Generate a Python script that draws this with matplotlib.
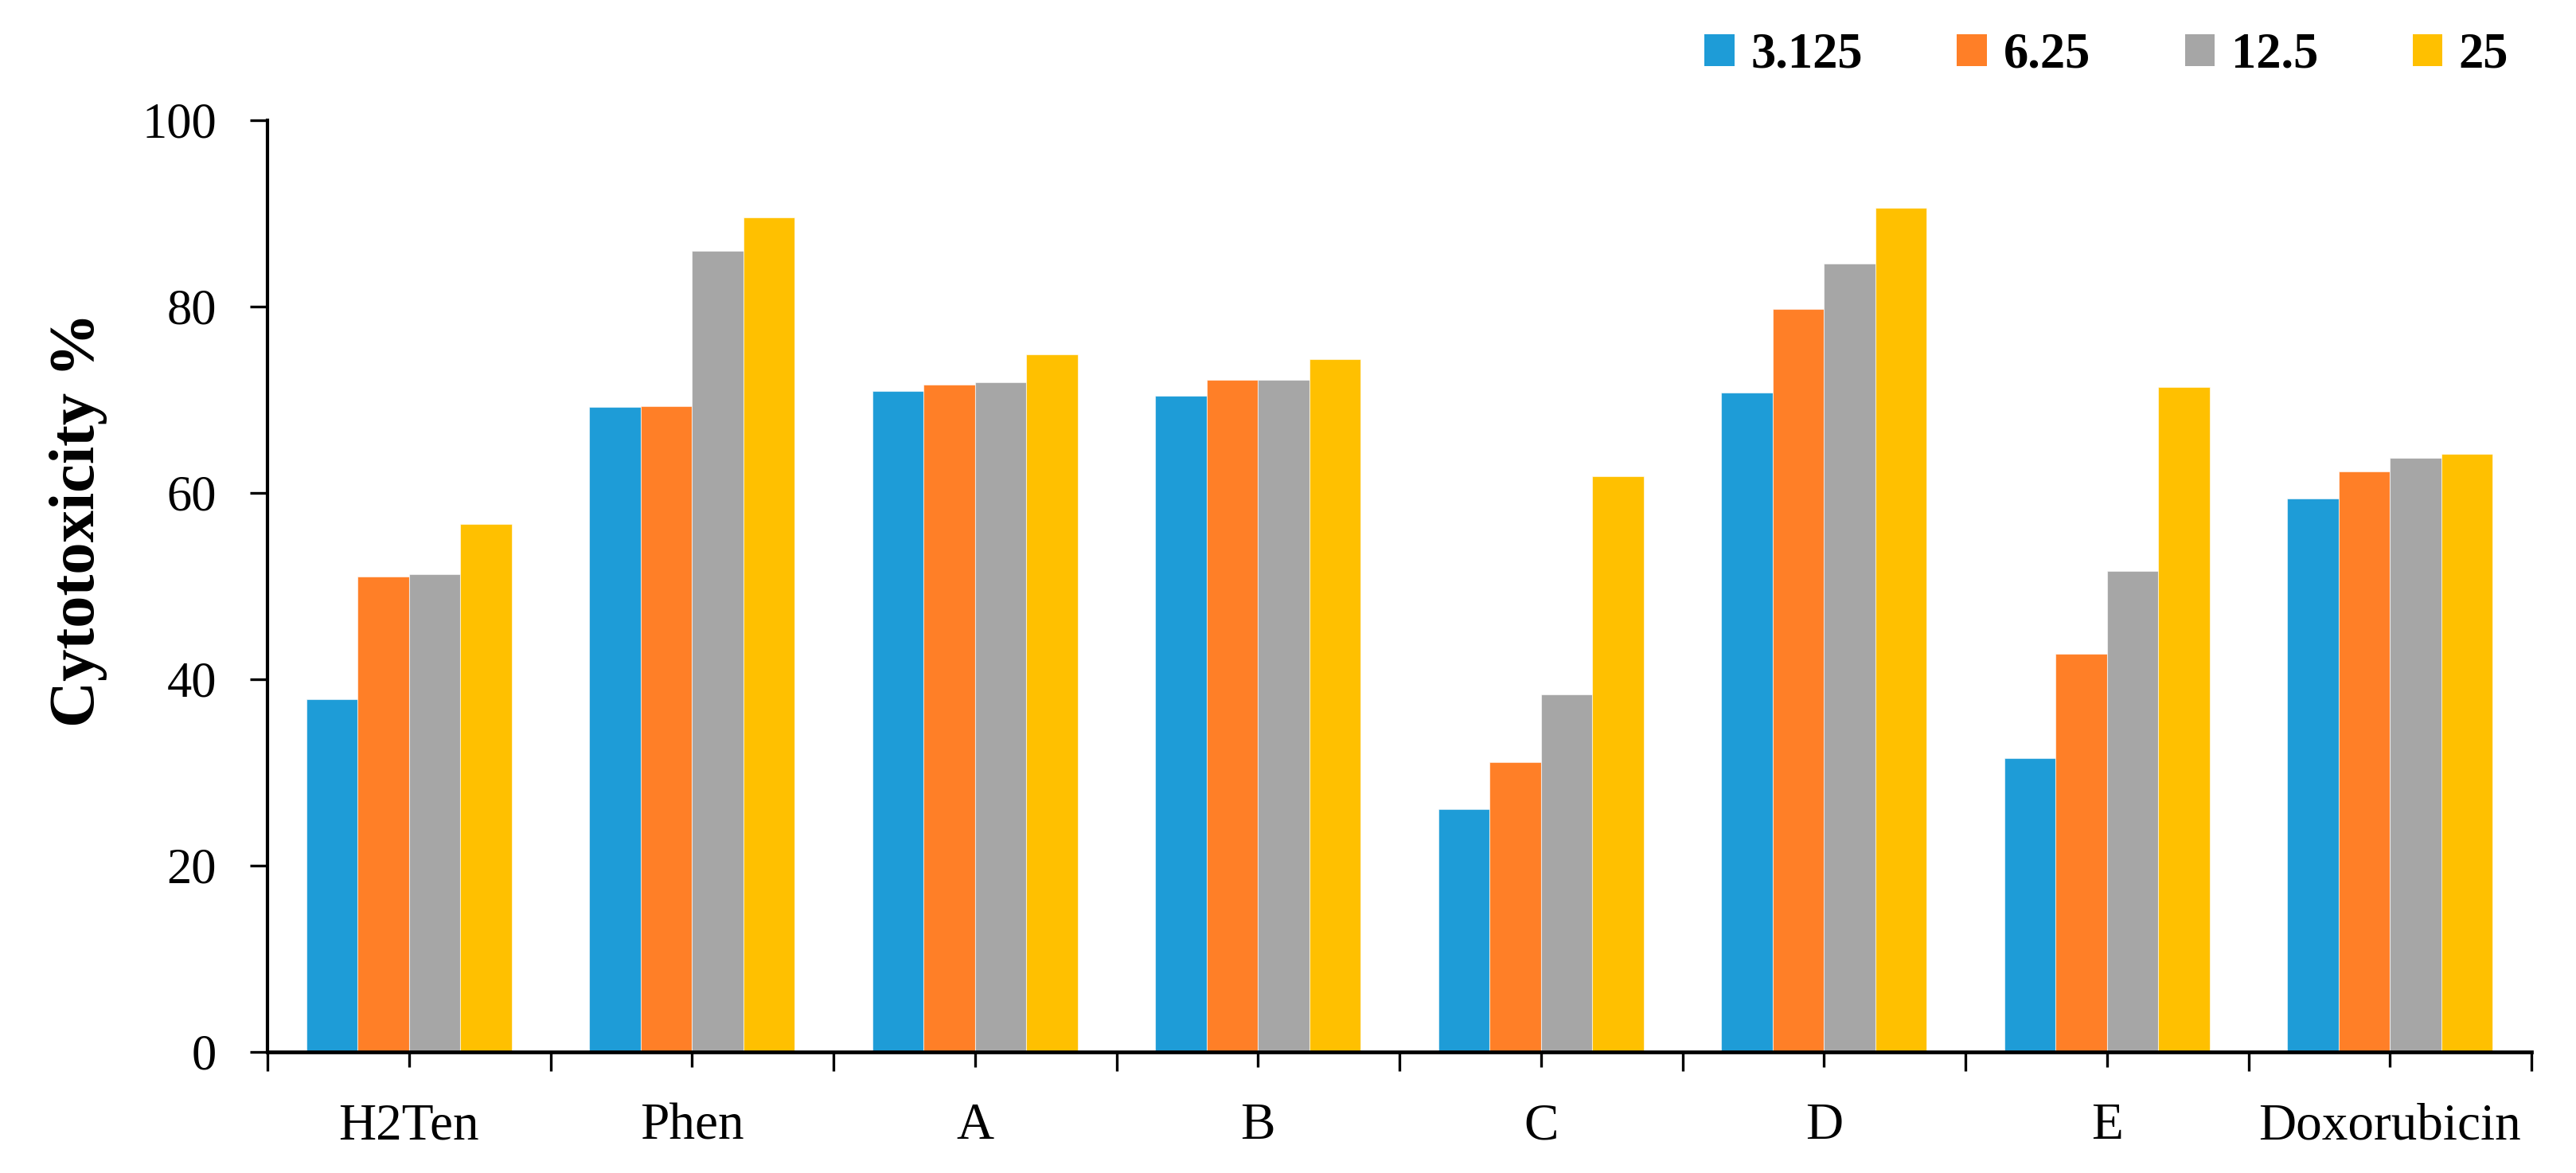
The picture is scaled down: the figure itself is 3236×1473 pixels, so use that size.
import matplotlib
matplotlib.use("Agg")
import matplotlib.pyplot as plt
import numpy as np
from matplotlib.patches import Patch

categories = ["H2Ten", "Phen", "A", "B", "C", "D", "E", "Doxorubicin"]
series_labels = ["3.125", "6.25", "12.5", "25"]
v_3125 = [37.9, 69.2, 70.9, 70.4, 26.1, 70.8, 31.5, 59.4]
v_625 = [51.0, 69.3, 71.6, 72.1, 31.1, 79.7, 42.7, 62.3]
v_125 = [51.3, 86.0, 71.9, 72.1, 38.4, 84.6, 51.6, 63.8]
v_25 = [56.7, 89.6, 74.85, 74.4, 61.8, 90.6, 71.4, 64.2]
y_ticks = [0, 20, 40, 60, 80, 100]

colors = ["#1E9CD7", "#FF7F27", "#A6A6A6", "#FFC000"]

plt.rcParams['font.family'] = ['Liberation Serif', 'DejaVu Serif']

fig = plt.figure(figsize=(32.37, 14.73), dpi=100)
ax = fig.add_axes([0.1038, 0.1032, 0.8786, 0.7943])

x = np.arange(len(categories))
w = 0.1814
series = [v_3125, v_625, v_125, v_25]
for i, (vals, c) in enumerate(zip(series, colors)):
    ax.bar(x + (i - 1.5) * w, vals, width=w, color=c,
           edgecolor=(1, 1, 1, 0.6), linewidth=0.8)

ax.set_xlim(-0.5, len(categories) - 0.5)
ax.set_ylim(0, 100)
ax.set_yticks(y_ticks)
ax.set_yticklabels([str(t) for t in y_ticks], fontsize=45)

ax.set_xticks(x)
ax.set_xticklabels(categories, fontsize=47)
ax.set_xticks(np.arange(-0.5, len(categories)), minor=True)

for s in ["top", "right"]:
    ax.spines[s].set_visible(False)
ax.spines["left"].set_linewidth(3.0)
ax.spines["bottom"].set_linewidth(3.4)

ax.tick_params(axis="y", which="major", direction="out", length=16, width=2.4, pad=30)
ax.tick_params(axis="x", which="major", direction="out", length=14, width=2.4, pad=32)
ax.tick_params(axis="x", which="minor", direction="out", length=17.5, width=2.4)

ax.set_ylabel("Cytotoxicity %", fontsize=58, fontweight="bold")
ax.yaxis.set_label_coords(-0.0707, 0.571)

handles = [Patch(facecolor=c, edgecolor="none") for c in colors]
fig.legend(handles, series_labels, ncol=4, loc="center right",
           bbox_to_anchor=(0.9735, 0.9525), frameon=False,
           prop={"size": 45, "weight": "bold"},
           handlelength=0.6, handleheight=0.6, handletextpad=0.33,
           columnspacing=1.9, borderpad=0, borderaxespad=0)

fig.savefig("out.png", dpi=100)
